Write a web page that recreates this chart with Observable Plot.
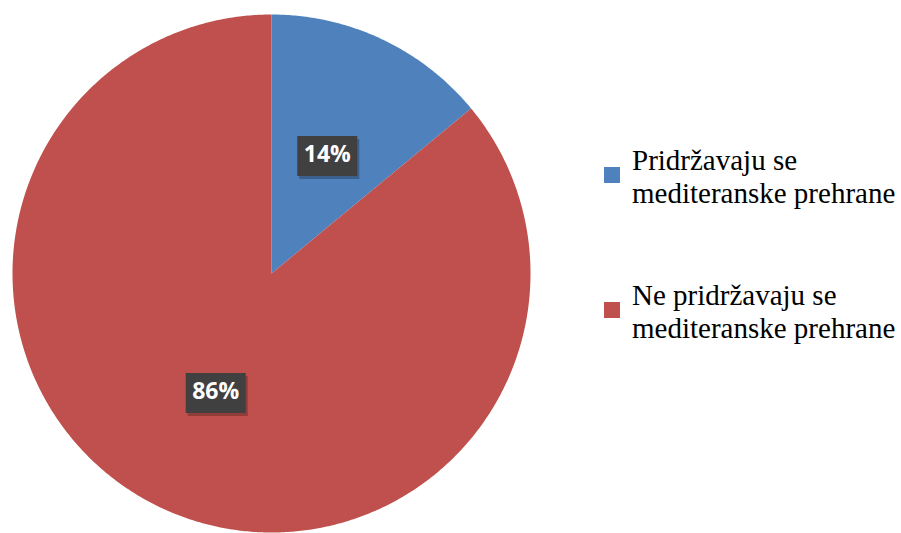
<!DOCTYPE html>
<html>
<head>
<meta charset="utf-8">
<script src="https://cdn.jsdelivr.net/npm/d3@7"></script>
<script src="https://cdn.jsdelivr.net/npm/@observablehq/plot@0.6"></script>
<style>
  html, body { margin: 0; padding: 0; background: #ffffff; }
  #wrap { position: relative; width: 901px; height: 533px; overflow: hidden; }
  #lg { position: absolute; left: 604px; top: 0; }
  #lg .sw { position: absolute; left: 0; width: 16px; height: 16px; }
  #lg .tx { position: absolute; left: 28px; white-space: nowrap; font-family: 'Liberation Serif'; font-size: 29px; line-height: 33px; color: #000; }
</style>
</head>
<body>
<div id="wrap"></div>
<script>
const categories = ["Pridržavaju se mediteranske prehrane", "Ne pridržavaju se mediteranske prehrane"];
const legendLines = [["Pridržavaju se", "mediteranske prehrane"], ["Ne pridržavaju se", "mediteranske prehrane"]];
const values = [14, 86];
const labels = ["14%", "86%"];
const colors = ["#4f81bd", "#c0504d"];

const W = 901, H = 533;
const cx = 271, cy = 273, R = 259, labelR = 131;

const arcs = d3.pie().sort(null).value(d => d)(values);

function ring(a0, a1) {
  const n = Math.max(8, Math.ceil((a1 - a0) * 120));
  const pts = [[cx, cy]];
  for (let i = 0; i <= n; i++) {
    const a = a0 + (a1 - a0) * i / n;
    pts.push([cx + R * Math.sin(a), cy - R * Math.cos(a)]);
  }
  pts.push([cx, cy]);
  return pts;
}

const features = arcs.map((a, i) => ({
  type: "Feature",
  properties: {category: categories[i]},
  geometry: {type: "Polygon", coordinates: [ring(a.startAngle, a.endAngle)]}
}));

const labelData = arcs.map((a, i) => {
  const m = (a.startAngle + a.endAngle) / 2;
  return {x: cx + labelR * Math.sin(m), y: cy - labelR * Math.cos(m), label: labels[i]};
});

const boxSymbol = { draw(ctx) { ctx.rect(-30, -19, 60, 40); } };

const chart = Plot.plot({
  width: W,
  height: H,
  margin: 0,
  projection: d3.geoIdentity(),
  color: {domain: categories, range: colors},
  marks: [
    Plot.geo(features, {fill: d => d.properties.category, stroke: "none"}),
    Plot.dot(labelData, {x: "x", y: "y", dx: 2, dy: 3, r: 10, symbol: boxSymbol, fill: "#000", fillOpacity: 0.25, stroke: "none"}),
    Plot.dot(labelData, {x: "x", y: "y", r: 10, symbol: boxSymbol, fill: "#404040", stroke: "none"}),
    Plot.text(labelData, {x: "x", y: "y", text: "label", fill: "#ffffff", fontSize: 23, fontWeight: "bold", fontFamily: "Open Sans, sans-serif"})
  ]
});
chart.style.background = "#ffffff";
const wrap = document.getElementById("wrap");
wrap.appendChild(chart);

// legend
const legend = document.createElement("div");
legend.id = "lg";
const tops = [144, 279];
const swTops = [167, 302];
categories.forEach((c, i) => {
  const sw = document.createElement("div");
  sw.className = "sw";
  sw.style.background = colors[i];
  sw.style.top = swTops[i] + "px";
  legend.appendChild(sw);
  const tx = document.createElement("div");
  tx.className = "tx";
  tx.style.top = tops[i] + "px";
  tx.innerHTML = legendLines[i].join("<br>");
  legend.appendChild(tx);
});
wrap.appendChild(legend);
</script>
</body>
</html>
